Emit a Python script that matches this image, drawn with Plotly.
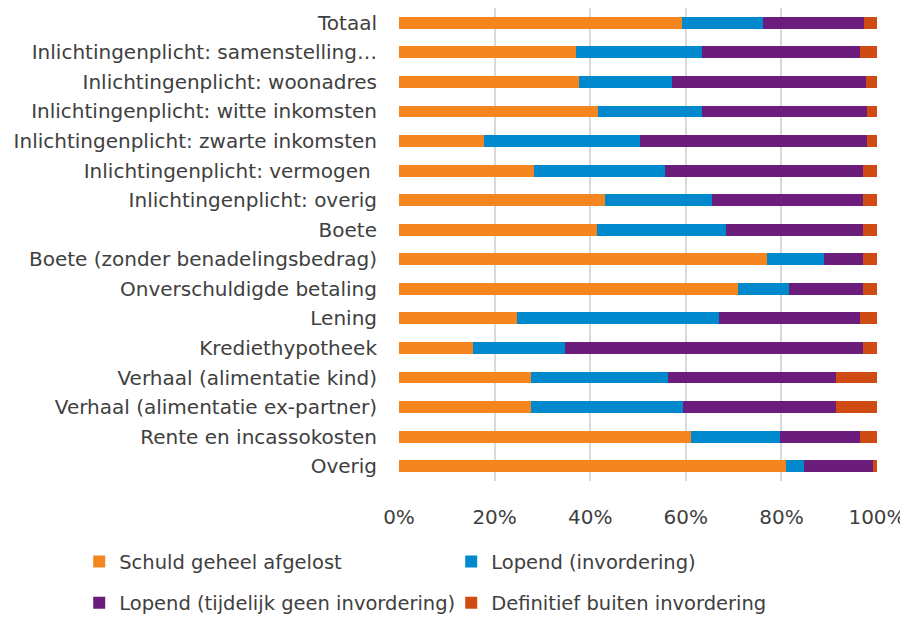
import plotly.graph_objects as go

categories = [
    "Totaal",
    "Inlichtingenplicht: samenstelling…",
    "Inlichtingenplicht: woonadres",
    "Inlichtingenplicht: witte inkomsten",
    "Inlichtingenplicht: zwarte inkomsten",
    "Inlichtingenplicht: vermogen\u00a0",
    "Inlichtingenplicht: overig",
    "Boete",
    "Boete (zonder benadelingsbedrag)",
    "Onverschuldigde betaling",
    "Lening",
    "Krediethypotheek",
    "Verhaal (alimentatie kind)",
    "Verhaal (alimentatie ex-partner)",
    "Rente en incassokosten",
    "Overig",
]

afgelost = [59.1, 37.0, 37.7, 41.7, 17.8, 28.2, 43.1, 41.4, 76.9, 70.9, 24.7, 15.4, 27.6, 27.6, 61.1, 81.0]
lopend = [17.0, 26.3, 19.4, 21.6, 32.6, 27.5, 22.4, 27.0, 12.1, 10.6, 42.2, 19.4, 28.6, 31.8, 18.6, 3.8]
geen_invordering = [21.2, 33.1, 40.7, 34.7, 47.6, 41.4, 31.6, 28.7, 8.1, 15.6, 29.6, 62.3, 35.3, 32.1, 16.8, 14.4]
buiten = [2.7, 3.6, 2.2, 2.0, 2.0, 2.9, 2.9, 2.9, 2.9, 2.9, 3.5, 2.9, 8.5, 8.5, 3.5, 0.8]

series_names = [
    "Schuld geheel afgelost",
    "Lopend (invordering)",
    "Lopend (tijdelijk geen invordering)",
    "Definitief buiten invordering",
]
series_values = [afgelost, lopend, geen_invordering, buiten]
colors = ["#F5861F", "#0089CC", "#6B1D7B", "#D04A14"]
legend_ids = ["legend", "legend", "legend2", "legend2"]

FONT = "DejaVu Sans"
TXT = "#404040"

fig = go.Figure()
for name, vals, col, lg in zip(series_names, series_values, colors, legend_ids):
    fig.add_trace(go.Bar(
        y=categories, x=[v / 100 for v in vals], name=name, orientation="h",
        marker=dict(color=col, line=dict(width=0)), width=0.4, legend=lg,
        hoverinfo="skip",
    ))

legend_common = dict(
    orientation="h", x=-0.669, xanchor="left", yanchor="middle",
    entrywidth=327, entrywidthmode="pixels", itemwidth=30,
    font=dict(family=FONT, size=19.5, color=TXT), traceorder="normal",
    bgcolor="rgba(0,0,0,0)",
)

fig.update_layout(
    barmode="stack",
    width=900, height=611,
    margin=dict(l=391, r=31, t=0, b=138, autoexpand=False),
    paper_bgcolor="white", plot_bgcolor="white",
    font=dict(family=FONT, size=20, color=TXT),
    xaxis=dict(
        range=[0, 1], tickvals=[0, 0.2, 0.4, 0.6, 0.8, 1.0],
        tickformat=".0%", showgrid=True, gridcolor="#D9D9D9", gridwidth=2,
        zeroline=False, showline=False, ticks="", fixedrange=True,
        ticklabelstandoff=22, automargin=False,
        tickfont=dict(family=FONT, size=20, color=TXT),
    ),
    yaxis=dict(
        autorange="reversed", showgrid=False, zeroline=False, showline=False,
        ticks="", ticklabelstandoff=21, fixedrange=True, automargin=False,
        tickfont=dict(family=FONT, size=20, color=TXT),
    ),
    legend=dict(y=-0.171, **legend_common),
    legend2=dict(y=-0.258, **legend_common),
)

fig.write_html("out.html")
